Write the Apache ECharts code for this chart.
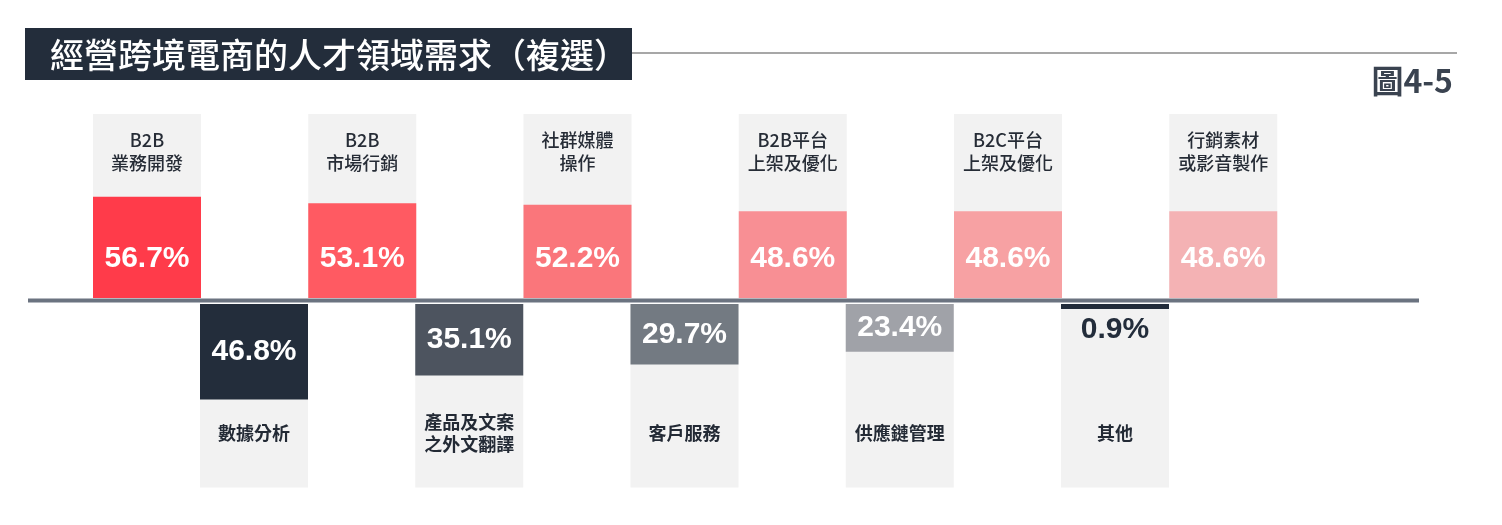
<!DOCTYPE html>
<html><head><meta charset="utf-8">
<script src="https://cdn.jsdelivr.net/npm/echarts@6/dist/echarts.min.js"></script>
<style>html,body{margin:0;padding:0;background:#fff;}#chart{width:1502px;height:525px;}</style>
</head><body><div id="chart"></div>
<script>
const titleText = '經營跨境電商的人才領域需求（複選）';
const figureLabel = '圖4-5';
const upperCategories = ['B2B\n業務開發', 'B2B\n市場行銷', '社群媒體\n操作', 'B2B平台\n上架及優化', 'B2C平台\n上架及優化', '行銷素材\n或影音製作'];
const upperValues = [56.7, 53.1, 52.2, 48.6, 48.6, 48.6];
const lowerCategories = ['數據分析', '產品及文案\n之外文翻譯', '客戶服務', '供應鏈管理', '其他'];
const lowerValues = [46.8, 35.1, 29.7, 23.4, 0.9];
const upperColors = ['#FF3B4A', '#FF5A62', '#FA767B', '#F88F94', '#F7A1A3', '#F4B2B4'];
const lowerColors = ['#232D3B', '#4D545F', '#737A82', '#A0A2A8', '#232D3B'];

const chart = echarts.init(document.getElementById('chart'), null, {renderer: 'canvas'});
const CJK = '"Noto Sans CJK TC", "Noto Sans CJK SC", sans-serif';
const NUM = '"Liberation Sans", Arial, sans-serif';
const pitch = 215.25;

const pct = p => p.value.toFixed(1) + '%';

const option = {
  backgroundColor: '#ffffff',
  animation: false,
  grid: [
    {left: 147 - pitch / 2, top: 114, width: pitch * 6, height: 184},
    {left: 254 - pitch / 2, top: 304, width: pitch * 5, height: 183.5}
  ],
  xAxis: [
    {
      type: 'category', gridIndex: 0, position: 'top', data: upperCategories, z: 10,
      axisLine: {show: false}, axisTick: {show: false}, splitLine: {show: false},
      axisLabel: {inside: true, interval: 0, margin: 38, verticalAlign: 'middle',
        fontSize: 18, lineHeight: 23, color: '#262C36', fontWeight: 500, fontFamily: CJK}
    },
    {
      type: 'category', gridIndex: 1, position: 'bottom', data: lowerCategories, z: 10,
      axisLine: {show: false}, axisTick: {show: false}, splitLine: {show: false},
      axisLabel: {inside: true, interval: 0, margin: 54, verticalAlign: 'middle',
        fontSize: 18, lineHeight: 22, color: '#232A35', fontWeight: 'bold', fontFamily: CJK}
    }
  ],
  yAxis: [
    {type: 'value', gridIndex: 0, min: 0, max: 103, show: false},
    {type: 'value', gridIndex: 1, min: 0, max: 90, inverse: true, show: false}
  ],
  series: [
    {
      type: 'bar', xAxisIndex: 0, yAxisIndex: 0, barWidth: 108,
      showBackground: true, backgroundStyle: {color: '#F2F2F2'},
      data: upperValues.map((v, i) => ({value: v, itemStyle: {color: upperColors[i]}})),
      label: {show: true, position: 'insideBottom', distance: 24, formatter: pct,
        color: '#ffffff', fontSize: 30, lineHeight: 30, fontWeight: 'bold', fontFamily: NUM}
    },
    {
      type: 'bar', xAxisIndex: 1, yAxisIndex: 1, barWidth: 108, barMinHeight: 5,
      showBackground: true, backgroundStyle: {color: '#F2F2F2'},
      data: lowerValues.map((v, i) => {
        const item = {value: v, itemStyle: {color: lowerColors[i]}};
        if (v < 5) item.label = {position: 'bottom', distance: 6, color: '#232D3B'};
        return item;
      }),
      label: {show: true, position: 'inside', formatter: pct,
        color: '#ffffff', fontSize: 30, lineHeight: 30, fontWeight: 'bold', fontFamily: NUM}
    }
  ],
  graphic: [
    {type: 'rect', z: 5, shape: {x: 25, y: 28, width: 607, height: 52}, style: {fill: '#232D3B'}},
    {type: 'text', z: 6, x: 50, y: 55, style: {text: titleText, fill: '#ffffff', font: '500 34px ' + CJK, verticalAlign: 'middle'}},
    {type: 'line', z: 5, shape: {x1: 632, y1: 53, x2: 1457, y2: 53}, style: {stroke: '#8A8A8A', lineWidth: 1.5}},
    {type: 'text', z: 6, x: 1453, y: 81, style: {text: figureLabel, fill: '#3A4350', font: 'bold 32px ' + CJK, align: 'right', verticalAlign: 'middle'}},
    {type: 'line', z: 20, shape: {x1: 28, y1: 300.5, x2: 1419, y2: 300.5}, style: {stroke: '#6B7380', lineWidth: 4}}
  ]
};
chart.setOption(option);
</script>
</body></html>
